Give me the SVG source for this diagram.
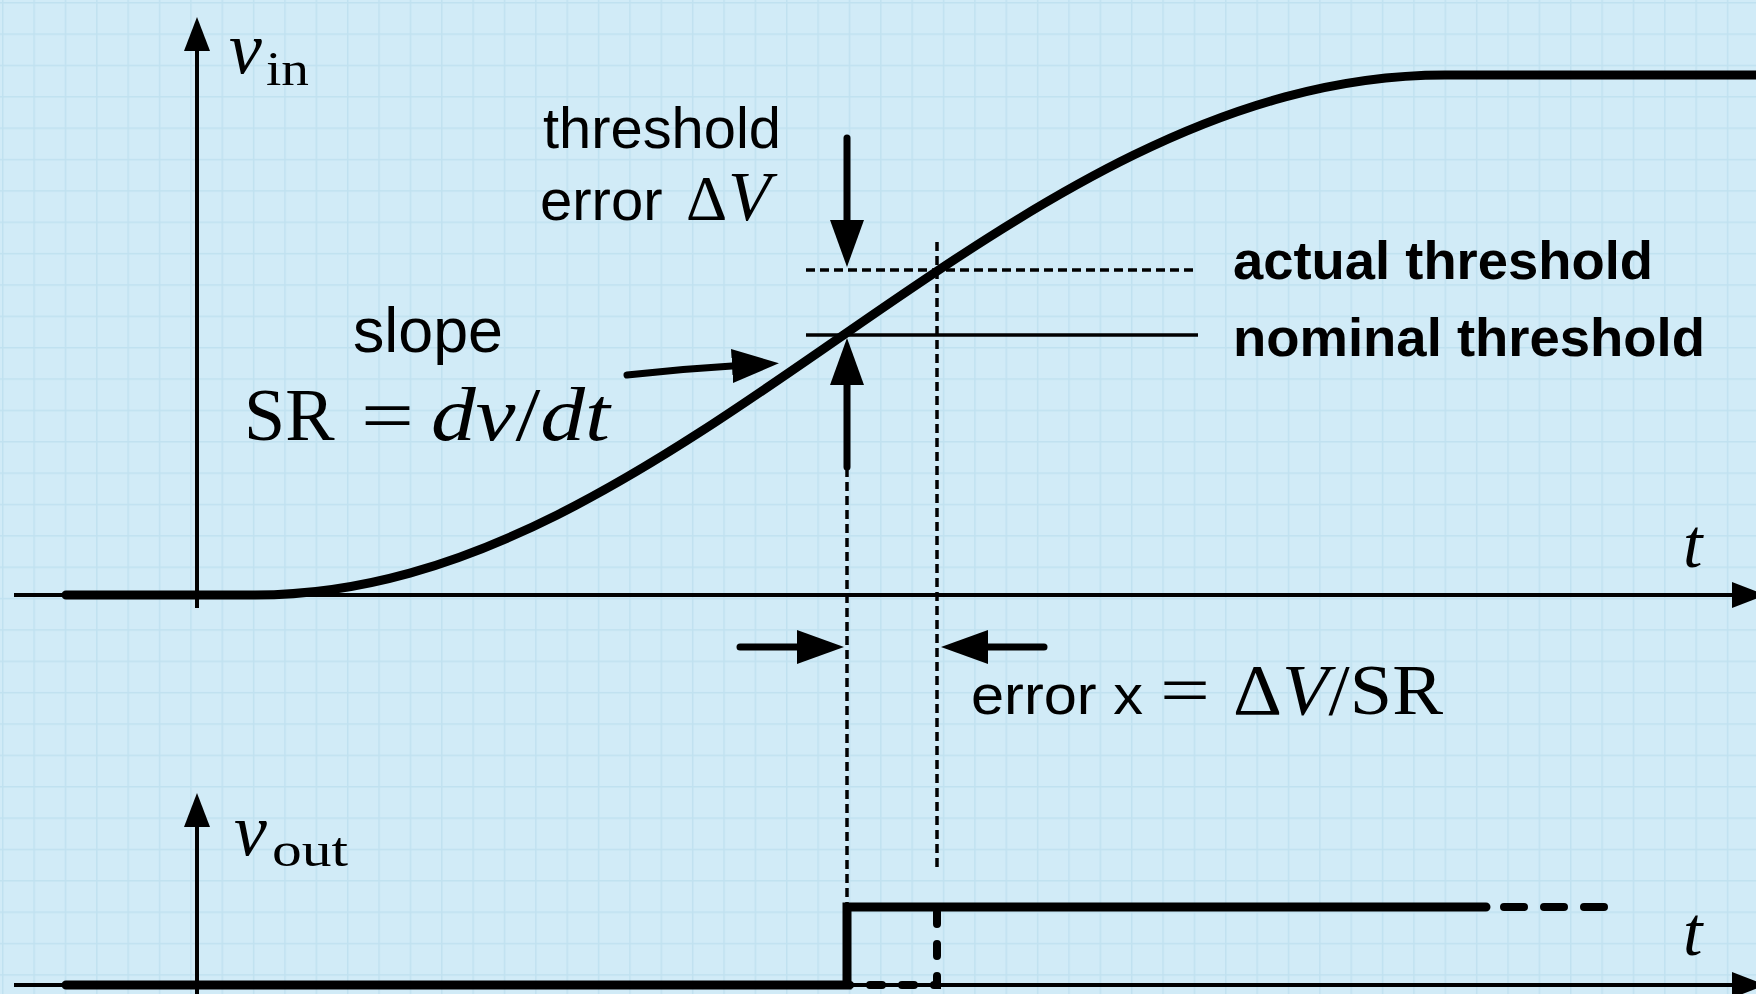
<svg xmlns="http://www.w3.org/2000/svg" width="1756" height="994" viewBox="0 0 1756 994">
<style>
.axis{stroke:#000;stroke-width:4;fill:none}
.curve{stroke:#000;stroke-width:9;fill:none;stroke-linecap:round;stroke-linejoin:miter}
.thin{stroke:#000;stroke-width:3.5;fill:none}
.dash{stroke:#000;stroke-width:3.5;fill:none;stroke-dasharray:9 5}
.tdash{stroke:#000;stroke-width:8;fill:none;stroke-linecap:round;stroke-dasharray:12 20}
.arrow{stroke:#000;stroke-width:7;fill:none;stroke-linecap:round}
.sans{font-family:"Liberation Sans",Arial,sans-serif;fill:#000}
.serif{font-family:"Liberation Serif","Times New Roman",serif;fill:#000}
.it{font-style:italic}
.bold{font-weight:bold}
</style>
<defs>
<pattern id="grid" width="31.36" height="31.36" patternUnits="userSpaceOnUse" x="2" y="2">
<path d="M0,0.75 H31.36 M0.75,0 V31.36" stroke="#c0e1f0" stroke-width="1.5" fill="none"/>
</pattern>
<marker id="ah" markerUnits="userSpaceOnUse" viewBox="0 0 47 34" markerWidth="47" markerHeight="34" refX="0" refY="17" orient="auto"><path d="M0,0 L47,17 L0,34 z" fill="#000"/></marker>
<marker id="ax" markerUnits="userSpaceOnUse" viewBox="0 0 34 26" markerWidth="34" markerHeight="26" refX="0" refY="13" orient="auto"><path d="M0,0 L34,13 L0,26 z" fill="#000"/></marker>
</defs>
<rect width="1756" height="994" fill="#d1ebf7"/>
<rect width="1756" height="994" fill="url(#grid)"/>

<g id="axes">
<line class="axis" x1="197" y1="608" x2="197" y2="51" marker-end="url(#ax)"/>
<line class="axis" x1="14" y1="595" x2="1732" y2="595" marker-end="url(#ax)"/>
<line class="axis" x1="197" y1="1000" x2="197" y2="827" marker-end="url(#ax)"/>
<line class="axis" x1="14" y1="985" x2="1732" y2="985" marker-end="url(#ax)"/>
</g>

<g id="vin-curve">
<path class="curve" d="M66,595 L255,595 C468,595 651.6,468.2 843.5,335 C1035.4,201.8 1225,75 1445,75 L1765,75"/>
</g>

<g id="thresholds">
<line class="dash" x1="806" y1="270" x2="1198" y2="270"/>
<line class="thin" x1="806" y1="335" x2="1198" y2="335"/>
</g>

<g id="vout-signal">
<path class="curve" d="M66,985 L847,985 L847,907 L1486,907"/>
<line class="tdash" x1="1504" y1="907" x2="1604" y2="907" style="stroke-dasharray:20 20"/>
<path class="tdash" d="M937,912 L937,985 L847,985"/>
</g>

<g id="connectors">
<line class="dash" x1="847" y1="468" x2="847" y2="905"/>
<line class="dash" x1="937" y1="242" x2="937" y2="868"/>
<line class="arrow" x1="847" y1="138" x2="847" y2="220" marker-end="url(#ah)"/>
<line class="arrow" x1="847" y1="467" x2="847" y2="385" marker-end="url(#ah)"/>
<line class="arrow" x1="740" y1="647" x2="797" y2="647" marker-end="url(#ah)"/>
<line class="arrow" x1="1044" y1="647" x2="988" y2="647" marker-end="url(#ah)"/>
<path class="arrow" d="M627,375 Q680,369 732,366" marker-end="url(#ah)"/>
</g>

<g id="label-vin">
<text class="serif it" x="229" y="73" font-size="74">v</text>
<text class="serif" x="266" y="85" font-size="48" textLength="43" lengthAdjust="spacingAndGlyphs">in</text>
</g>
<g id="label-vout">
<text class="serif it" x="234" y="855" font-size="74">v</text>
<text class="serif" x="272" y="866" font-size="48" textLength="76" lengthAdjust="spacingAndGlyphs">out</text>
</g>
<g id="label-t-top"><text class="serif it" x="1683" y="567" font-size="70">t</text></g>
<g id="label-t-bottom"><text class="serif it" x="1683" y="955" font-size="70">t</text></g>

<g id="label-threshold-error">
<text class="sans" x="543" y="148" font-size="58" textLength="238" lengthAdjust="spacingAndGlyphs">threshold</text>
<text class="sans" x="540" y="220" font-size="58">error</text>
<text class="serif" x="686" y="220" font-size="64">Δ</text>
<text class="serif it" x="728" y="220" font-size="70">V</text>
</g>

<g id="label-slope">
<text class="sans" x="353" y="352" font-size="63" textLength="150" lengthAdjust="spacingAndGlyphs">slope</text>
<text class="serif" x="244" y="440" font-size="74">SR</text>
<text class="serif" x="361" y="440" font-size="74" textLength="53" lengthAdjust="spacingAndGlyphs">=</text>
<text class="serif" x="431" y="440" font-size="76" textLength="179" lengthAdjust="spacingAndGlyphs"><tspan class="it">dv</tspan>/<tspan class="it">dt</tspan></text>
</g>

<g id="label-actual"><text class="sans bold" x="1233" y="279" font-size="54" textLength="420" lengthAdjust="spacingAndGlyphs">actual threshold</text></g>
<g id="label-nominal"><text class="sans bold" x="1233" y="356" font-size="54" textLength="472" lengthAdjust="spacingAndGlyphs">nominal threshold</text></g>

<g id="label-error-x">
<text class="sans" x="971" y="714" font-size="56" textLength="172" lengthAdjust="spacingAndGlyphs">error x</text>
<text class="serif" x="1160" y="714" font-size="70" textLength="50" lengthAdjust="spacingAndGlyphs">=</text>
<text class="serif" x="1233" y="714" font-size="72" textLength="210" lengthAdjust="spacingAndGlyphs">Δ<tspan class="it">V</tspan>/SR</text>
</g>
</svg>
